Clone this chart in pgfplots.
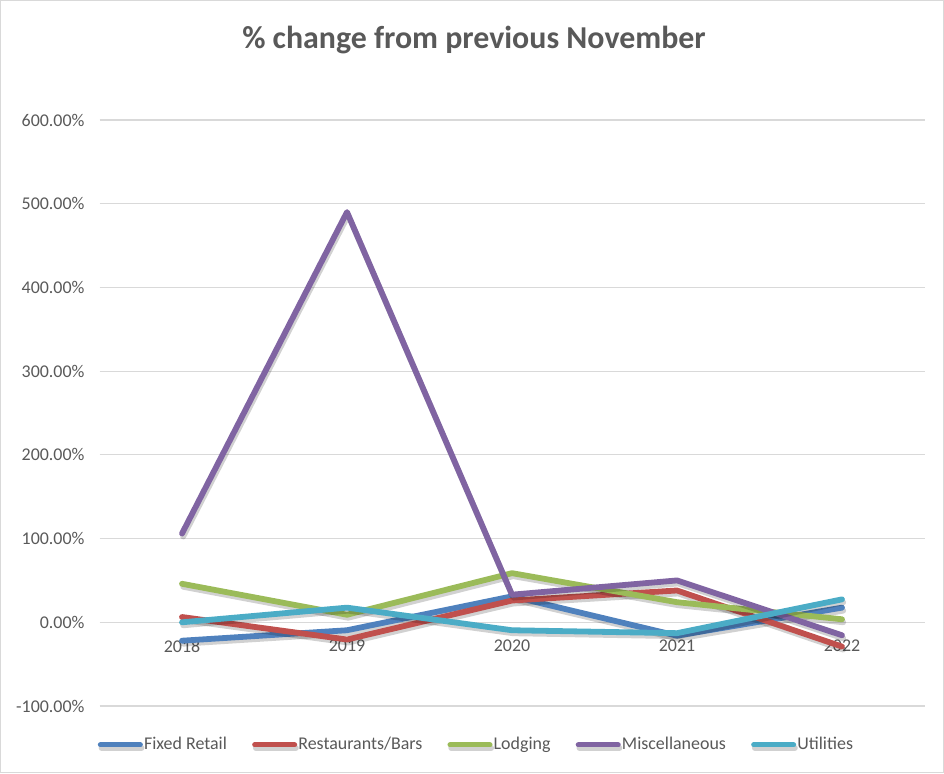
\documentclass[border=0pt]{standalone}
\usepackage{fontspec}
\setmainfont{Carlito}
\usepackage{pgfplots}
\pgfplotsset{compat=1.18}
\definecolor{cA}{HTML}{4F81BD}
\definecolor{cB}{HTML}{C0504D}
\definecolor{cC}{HTML}{9BBB59}
\definecolor{cD}{HTML}{8064A2}
\definecolor{cE}{HTML}{4BACC6}
\definecolor{gridc}{HTML}{D9D9D9}
\definecolor{txt}{HTML}{595959}
\begin{document}
\begin{tikzpicture}[x=1bp,y=1bp]
\path[use as bounding box] (0,0) rectangle (472,386.5);
\draw[color=gridc, line width=0.6bp] (0.3,0.3) rectangle (471.7,386.2);
\node[font=\fontsize{16}{19}\selectfont\bfseries, text=txt] at (237,366.5) {\% change from previous November};
\begin{axis}[
  at={(49.75bp,33.5bp)}, anchor=south west,
  scale only axis, width=412.5bp, height=293bp,
  xmin=-0.5, xmax=4.5, ymin=-100, ymax=600,
  ytick={-100,0,...,600},
  xtick={0,...,4}, xticklabels={2018,2019,2020,2021,2022},
  ymajorgrids, grid style={gridc, line width=0.6bp},
  axis x line=middle, axis y line=left,
  axis line style={draw=none},
  hide obscured x ticks=false, hide obscured y ticks=false,
  major tick length=0,
  tick label style={font=\fontsize{9}{11}\selectfont, text=txt},
  /pgf/number format/assume math mode=true,
  yticklabel={\pgfmathprintnumber[fixed,fixed zerofill,precision=2]{\tick}\%},
  yticklabel style={xshift=-4bp},
  xticklabel style={anchor=north, yshift=-5.5bp},
  legend style={at={(rel axis cs:0.4564,-0.0665)}, anchor=center, draw=none,
    font=\fontsize{9}{11}\selectfont, text=txt, legend columns=5,
    /tikz/every even column/.append style={column sep=12bp},
    nodes={inner sep=0.6bp}},
  legend image code/.code={\draw[#1, line width=2.5bp, line cap=round] (0bp,0bp) -- (20bp,0bp);},
  every axis plot/.append style={line width=2.9bp, line cap=round, line join=round, mark=none},
]
\addplot[cA, preaction={draw=black, draw opacity=0.18, transform canvas={xshift=0.6bp, yshift=-1.5bp}}] coordinates {(0,-22) (1,-9.5) (2,31) (3,-16) (4,17.5)};
\addlegendentry{Fixed Retail}
\addplot[cB, preaction={draw=black, draw opacity=0.18, transform canvas={xshift=0.6bp, yshift=-1.5bp}}] coordinates {(0,6.3) (1,-20.6) (2,26) (3,38) (4,-29)};
\addlegendentry{Restaurants/Bars}
\addplot[cC, preaction={draw=black, draw opacity=0.18, transform canvas={xshift=0.6bp, yshift=-1.5bp}}] coordinates {(0,46) (1,9) (2,58.7) (3,24) (4,3.6)};
\addlegendentry{Lodging}
\addplot[cD, preaction={draw=black, draw opacity=0.18, transform canvas={xshift=0.6bp, yshift=-1.5bp}}] coordinates {(0,106) (1,490) (2,33) (3,50) (4,-15.5)};
\addlegendentry{Miscellaneous}
\addplot[cE, preaction={draw=black, draw opacity=0.18, transform canvas={xshift=0.6bp, yshift=-1.5bp}}] coordinates {(0,0) (1,17.5) (2,-9.5) (3,-13) (4,27.4)};
\addlegendentry{Utilities}
\end{axis}
\end{tikzpicture}
\end{document}
